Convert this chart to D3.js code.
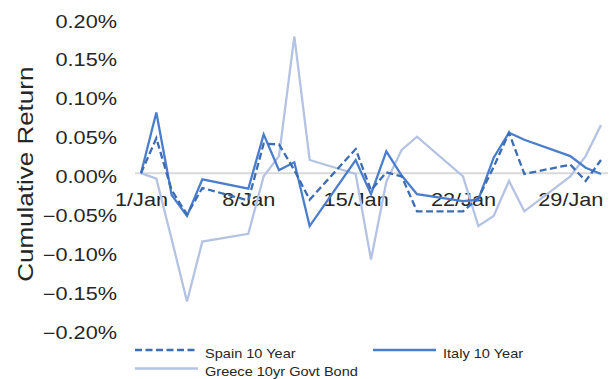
<!DOCTYPE html>
<html>
<head>
<meta charset="utf-8">
<script src="https://cdn.jsdelivr.net/npm/d3@7"></script>
<style>
  html, body { margin: 0; padding: 0; background: #fff; }
  svg { display: block; font-family: "Liberation Sans", Arial, Helvetica, sans-serif; }
</style>
</head>
<body>
<svg id="chart" width="613" height="379"></svg>
<script>
// Trading days, January 2018
const dates = ["2018-01-01","2018-01-02","2018-01-03","2018-01-04","2018-01-05",
  "2018-01-08","2018-01-09","2018-01-10","2018-01-11","2018-01-12",
  "2018-01-15","2018-01-16","2018-01-17","2018-01-18","2018-01-19",
  "2018-01-22","2018-01-23","2018-01-24","2018-01-25","2018-01-26",
  "2018-01-29","2018-01-30","2018-01-31"];

// Cumulative return, in percent
const spain10y = [0.000, 0.045, -0.022, -0.053, -0.019,
  -0.035, 0.038, 0.037, 0.004, -0.034,
  0.031, -0.022, 0.001, -0.004, -0.049,
  -0.049, -0.032, 0.008, 0.052, -0.001,
  0.011, -0.010, 0.017];

const italy10y = [0.000, 0.078, -0.028, -0.055, -0.008,
  -0.020, 0.050, 0.004, 0.014, -0.068,
  0.017, -0.027, 0.028, -0.003, -0.027,
  -0.036, -0.034, 0.020, 0.052, 0.043,
  0.022, 0.007, -0.001];

const greece10y = [0.000, -0.007, -0.085, -0.165, -0.088,
  -0.078, -0.004, 0.022, 0.176, 0.017,
  -0.001, -0.111, -0.011, 0.030, 0.047,
  -0.004, -0.068, -0.055, -0.010, -0.049,
  -0.004, 0.022, 0.062];

const yTickValues = [0.20, 0.15, 0.10, 0.05, 0.00, -0.05, -0.10, -0.15, -0.20];
const xTickDates = ["2018-01-01","2018-01-08","2018-01-15","2018-01-22","2018-01-29"];

const seriesNames = ["Spain 10 Year", "Italy 10 Year", "Greece 10yr Govt Bond"];

const parse = d3.utcParse("%Y-%m-%d");
const days = dates.map(parse);

const series = [
  { name: seriesNames[2], values: greece10y, color: "#b4c3e3", dash: null },
  { name: seriesNames[1], values: italy10y,  color: "#4a7ecd", dash: null },
  { name: seriesNames[0], values: spain10y,  color: "#3d6db5", dash: "7,3.5" }
];

const svg = d3.select("#chart");
const TEXT = "#262626";

const x = d3.scaleUtc()
  .domain([days[0], days[days.length - 1]])
  .range([141, 601]);

const y = d3.scaleLinear()
  .domain([-0.2, 0.2])
  .range([328.7, 17.7]);

// Y axis labels
const yAxis = svg.append("g")
  .attr("transform", "translate(117,0)")
  .call(d3.axisLeft(y).tickValues(yTickValues).tickSize(0)
    .tickFormat(d => d3.format(".2f")(d) + "%"));
yAxis.select(".domain").remove();
yAxis.selectAll("text")
  .attr("x", null).attr("dy", null)
  .attr("y", 9.3)
  .attr("text-anchor", "end")
  .attr("transform", "scale(1.24,1)")
  .style("font-size", "17.5px")
  .style("font-family", "'Liberation Sans', Arial, sans-serif")
  .attr("fill", TEXT);

// Zero line
svg.append("line")
  .attr("x1", x.range()[0] - 6).attr("x2", x.range()[1] + 7)
  .attr("y1", y(0)).attr("y2", y(0))
  .attr("stroke", "#d9d9d9").attr("stroke-width", 2);

// X axis labels sit just below the zero line
const xAxis = svg.append("g")
  .attr("transform", `translate(0,${y(0)})`)
  .call(d3.axisBottom(x).tickValues(xTickDates.map(parse)).tickSize(0)
    .tickFormat(d3.utcFormat("%-d/%b")));
xAxis.select(".domain").remove();
xAxis.selectAll("text")
  .attr("dy", null)
  .attr("y", 33.3)
  .attr("text-anchor", "middle")
  .attr("transform", "scale(1.24,1)")
  .style("font-size", "17.5px")
  .style("font-family", "'Liberation Sans', Arial, sans-serif")
  .attr("fill", TEXT);

// Axis title
svg.append("text")
  .attr("transform", `translate(33.3,${(y(0.2) + y(-0.2)) / 2 + 1}) rotate(-90) scale(1.155,1)`)
  .attr("text-anchor", "middle")
  .style("font-size", "22.5px")
  .attr("fill", TEXT)
  .text("Cumulative Return");

// Series lines
const line = d3.line()
  .x((d, i) => x(days[i]))
  .y(d => y(d));

svg.append("g").selectAll("path")
  .data(series)
  .join("path")
  .attr("d", s => line(s.values))
  .attr("fill", "none")
  .attr("stroke", s => s.color)
  .attr("stroke-width", 2.3)
  .attr("stroke-linejoin", "miter")
  .attr("stroke-dasharray", s => s.dash);

// Legend
const legendItems = [
  { s: series[2], lx: 135, ly: 350 },
  { s: series[1], lx: 373, ly: 350 },
  { s: series[0], lx: 135, ly: 368.5 }
];
const legend = svg.append("g");
legendItems.forEach(item => {
  legend.append("line")
    .attr("x1", item.lx).attr("x2", item.lx + 63)
    .attr("y1", item.ly).attr("y2", item.ly)
    .attr("stroke", item.s.color)
    .attr("stroke-width", 2.3)
    .attr("stroke-dasharray", item.s.dash);
  legend.append("text")
    .attr("transform", `translate(${item.lx + 70},${item.ly + 7.8}) scale(1.12,1)`)
    .style("font-size", "13px")
    .attr("fill", TEXT)
    .text(item.s.name);
});
</script>
</body>
</html>
